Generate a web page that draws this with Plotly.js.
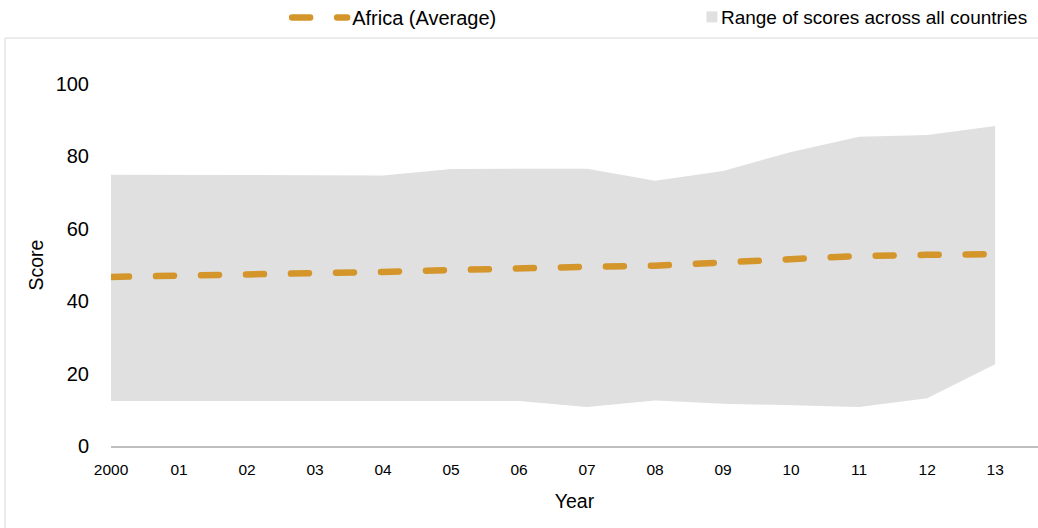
<!DOCTYPE html>
<html>
<head>
<meta charset="utf-8">
<script src="https://cdn.plot.ly/plotly-3.0.1.min.js"></script>
<style>
html,body{margin:0;padding:0;background:#fff;}
#chart{width:1038px;height:528px;}
.js-line{stroke-linecap:round;}
</style>
</head>
<body>
<div id="chart"></div>
<script>
const years = ['2000','01','02','03','04','05','06','07','08','09','10','11','12','13'];
const rangeMax = [74.9, 74.9, 75.0, 74.8, 74.7, 76.5, 76.6, 76.6, 73.3, 76.0, 81.2, 85.4, 85.9, 88.4];
const rangeMin = [12.4, 12.4, 12.4, 12.4, 12.4, 12.5, 12.4, 10.8, 12.6, 11.7, 11.3, 10.8, 13.2, 22.6];
const africaAvg = [46.7, 47.0, 47.2, 47.8, 48.1, 48.6, 49.2, 49.5, 49.8, 50.8, 51.9, 52.5, 52.8, 53.0];
const legendNames = ['Africa (Average)', 'Range of scores across all countries'];

const FONT = 'Liberation Sans, Arial, sans-serif';
const GOLD = '#D4952B';
const GREY = '#E0E0E0';

const traces = [
  {x: years, y: rangeMin, type: 'scatter', mode: 'lines', line: {width: 0, color: 'rgba(0,0,0,0)'},
   showlegend: false, hoverinfo: 'skip'},
  {x: years, y: rangeMax, type: 'scatter', mode: 'lines', fill: 'tonexty', fillcolor: GREY,
   line: {width: 0, color: GREY}, showlegend: false},
  {x: years, y: africaAvg, type: 'scatter', mode: 'lines', name: legendNames[0],
   line: {color: GOLD, width: 6.5, dash: '18px,27px'}, legend: 'legend'},
  {x: [null], y: [null], type: 'scatter', mode: 'markers', name: legendNames[1],
   marker: {symbol: 'square', size: 11, color: GREY}, legend: 'legend2'}
];

const layout = {
  width: 1038, height: 528,
  margin: {l: 111, r: 0, t: 84, b: 82, autoexpand: false},
  paper_bgcolor: '#fff', plot_bgcolor: '#fff',
  font: {family: FONT, color: '#000'},
  xaxis: {
    type: 'category', categoryorder: 'array', categoryarray: years,
    range: [0, 13.63], showgrid: false, zeroline: false,
    showline: true, linecolor: '#BFBFBF', linewidth: 2,
    ticks: 'outside', ticklen: 8, tickcolor: 'rgba(0,0,0,0)',
    tickfont: {size: 15.5, family: FONT},
    title: {text: 'Year', font: {size: 19.5, family: FONT}, standoff: 18}
  },
  yaxis: {
    range: [0, 100], tickvals: [0, 20, 40, 60, 80, 100], showgrid: false, zeroline: false,
    showline: false, ticks: 'outside', ticklen: 17, tickcolor: 'rgba(0,0,0,0)',
    tickfont: {size: 20, family: FONT},
    title: {text: 'Score', font: {size: 19.5, family: FONT}, standoff: 6}
  },
  legend: {orientation: 'h', x: 0.19, y: 1.2375, xanchor: 'left', yanchor: 'top',
    font: {size: 20, family: FONT}, bgcolor: 'rgba(0,0,0,0)', itemwidth: 55},
  legend2: {orientation: 'h', x: 0.6148, y: 1.2375, xanchor: 'left', yanchor: 'top',
    font: {size: 19, family: FONT}, bgcolor: 'rgba(0,0,0,0)', itemwidth: 30},
  shapes: [
    {type: 'rect', xref: 'paper', yref: 'paper', x0: -0.1143, x1: 1.05, y0: -0.3, y1: 1.127,
     line: {color: '#D9D9D9', width: 1}, fillcolor: 'rgba(0,0,0,0)', layer: 'below'}
  ],
  showlegend: true
};

Plotly.newPlot('chart', traces, layout, {displayModeBar: false, staticPlot: true}).then(function (gd) {
  const sym = gd.querySelector('.legend2 .legendsymbols');
  if (sym) sym.setAttribute('transform', 'translate(11,0)');
});
</script>
</body>
</html>
